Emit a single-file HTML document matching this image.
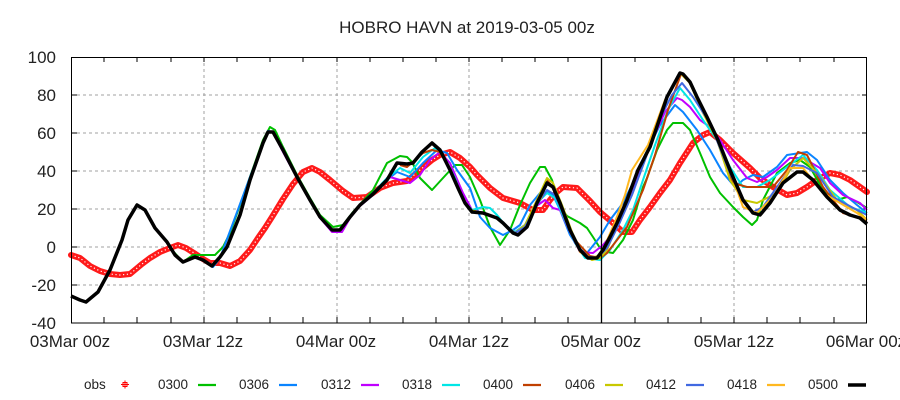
<!DOCTYPE html>
<html><head><meta charset="utf-8"><style>
html,body{margin:0;padding:0;background:#fff;}
svg{display:block;}
text{font-family:"Liberation Sans","DejaVu Sans",sans-serif;fill:#222;}
</style></head><body>
<svg width="900" height="400" viewBox="0 0 900 400" xmlns="http://www.w3.org/2000/svg">
<rect width="900" height="400" fill="#fff"/>
<text x="467" y="33" font-size="17" text-anchor="middle">HOBRO HAVN at 2019-03-05 00z</text>

<!-- grid -->
<g stroke="#a0a0a0" stroke-width="1" stroke-dasharray="3,3" fill="none">
<line x1="71" y1="95" x2="867" y2="95"/>
<line x1="71" y1="133" x2="867" y2="133"/>
<line x1="71" y1="171" x2="867" y2="171"/>
<line x1="71" y1="209" x2="867" y2="209"/>
<line x1="71" y1="247" x2="867" y2="247"/>
<line x1="71" y1="285" x2="867" y2="285"/>
<line x1="204" y1="57" x2="204" y2="323"/>
<line x1="337" y1="57" x2="337" y2="323"/>
<line x1="469" y1="57" x2="469" y2="323"/>
<line x1="734" y1="57" x2="734" y2="323"/>
</g>

<!-- ticks -->
<g stroke="#000" stroke-width="1">
<path d="M104,323v-6M137,323v-6M171,323v-6M204,323v-6M237,323v-6M270,323v-6M303,323v-6M337,323v-6M370,323v-6M403,323v-6M436,323v-6M469,323v-6M502,323v-6M535,323v-6M568,323v-6M635,323v-6M668,323v-6M701,323v-6M734,323v-6M767,323v-6M800,323v-6M834,323v-6"/>
<path d="M104,57v5M137,57v5M171,57v5M204,57v5M237,57v5M270,57v5M303,57v5M337,57v5M370,57v5M403,57v5M436,57v5M469,57v5M502,57v5M535,57v5M568,57v5M635,57v5M668,57v5M701,57v5M734,57v5M767,57v5M800,57v5M834,57v5"/>
<path d="M71,95h6M71,133h6M71,171h6M71,209h6M71,247h6M71,285h6"/>
<path d="M867,95h-5M867,133h-5M867,171h-5M867,209h-5M867,247h-5M867,285h-5"/>
</g>

<!-- y labels -->
<g font-size="17" text-anchor="end">
<text x="56" y="63">100</text>
<text x="56" y="101">80</text>
<text x="56" y="139">60</text>
<text x="56" y="177">40</text>
<text x="56" y="215">20</text>
<text x="56" y="253">0</text>
<text x="56" y="291">-20</text>
<text x="56" y="329">-40</text>
</g>
<!-- x labels -->
<g font-size="17" text-anchor="middle">
<text x="70" y="347">03Mar 00z</text>
<text x="203" y="347">03Mar 12z</text>
<text x="336" y="347">04Mar 00z</text>
<text x="469" y="347">04Mar 12z</text>
<text x="601" y="347">05Mar 00z</text>
<text x="734" y="347">05Mar 12z</text>
<text x="866" y="347">06Mar 00z</text>
</g>

<!-- obs -->
<polyline fill="none" stroke="#ff1a1a" stroke-width="6" stroke-linejoin="round" stroke-linecap="round"
points="71,255 80,258 90,266 100,271 110,274 120,275 130,274 136,269 142,264 150,258 160,252 170,248 178,245 186,248 194,253 203,259 210,263 220,263 230,266 240,261 250,250 258,238 265,228 272,217 283,199 293,184 303,172 312,168 320,172 330,180 343,191 353,198 367,197 380,188 393,183 407,181 420,170 432,160 440,155 450,152 460,158 470,167 477,175 490,188 503,198 520,203 533,210 543,210 550,200 557,192 563,187 577,188 590,201 600,212 613,223 623,232 632,232 640,220 650,207 660,193 670,180 680,163 693,143 703,135 710,132 720,140 733,153 750,168 760,178 773,187 787,195 797,193 807,187 817,180 830,173 840,175 850,180 860,187 867,192"/>
<polyline fill="none" stroke="#fff" stroke-width="1.2" stroke-dasharray="1.2,2.6" stroke-linejoin="round"
points="71,255 80,258 90,266 100,271 110,274 120,275 130,274 136,269 142,264 150,258 160,252 170,248 178,245 186,248 194,253 203,259 210,263 220,263 230,266 240,261 250,250 258,238 265,228 272,217 283,199 293,184 303,172 312,168 320,172 330,180 343,191 353,198 367,197 380,188 393,183 407,181 420,170 432,160 440,155 450,152 460,158 470,167 477,175 490,188 503,198 520,203 533,210 543,210 550,200 557,192 563,187 577,188 590,201 600,212 613,223 623,232 632,232 640,220 650,207 660,193 670,180 680,163 693,143 703,135 710,132 720,140 733,153 750,168 760,178 773,187 787,195 797,193 807,187 817,180 830,173 840,175 850,180 860,187 867,192"/>

<g fill="none" stroke-width="2" stroke-linejoin="round">
<!-- 0300 -->
<polyline stroke="#00c000" points="150,220 158,232 167,241 172,250 183,262 193,255 207,255 215,255 223,247 230,233 250,177 263,140 270,127 275,130 283,147 297,175 310,198 320,215 333,227 343,225 353,212 373,190 387,163 400,156 407,157 412,162 420,178 432,190 443,178 455,165 462,165 470,177 480,200 490,227 500,245 510,230 520,205 530,183 540,167 545,167 552,180 560,207 567,216 580,223 587,228 593,237 600,248 607,252 613,253 623,240 633,220 643,187 647,178 657,150 667,130 673,123 683,123 690,130 700,153 710,177 720,193 733,207 743,217 752,225 757,220 763,200 777,173 790,163 800,160 810,167 823,190 837,200 847,197 857,202 867,208"/>
<!-- 0306 -->
<polyline stroke="#0a84ff" points="203,260 213,267 220,258 233,223 250,177 263,143 268,131 273,132 283,150 297,177 310,200 320,217 332,230 340,230 350,217 360,205 373,193 387,180 397,172 410,177 423,163 437,150 447,153 457,170 470,188 480,217 490,228 503,235 513,230 520,225 530,205 540,193 547,192 553,195 560,210 570,235 580,250 587,253 600,237 610,220 623,203 633,183 645,155 660,125 675,105 683,112 697,130 710,150 723,173 735,187 743,180 753,175 763,177 777,167 787,155 807,152 817,160 830,180 843,193 857,205 867,213"/>
<!-- 0312 -->
<polyline stroke="#c000ff" points="263,143 268,132 273,132 283,152 297,178 310,201 320,218 332,232 342,232 350,218 360,206 373,195 390,177 400,180 410,183 420,175 430,160 440,152 450,163 463,193 472,210 483,213 497,218 505,225 515,232 525,225 535,207 545,200 553,208 560,210 570,232 580,252 593,253 603,245 613,233 625,210 637,180 650,145 665,112 677,98 682,100 690,107 700,120 710,127 720,140 733,160 747,178 757,182 767,177 777,170 790,158 803,158 820,168 830,183 843,195 860,203 867,210"/>
<!-- 0318 -->
<polyline stroke="#00e6e6" points="340,230 350,217 360,205 373,193 387,178 400,168 410,173 423,157 435,148 443,155 455,178 463,200 472,210 483,207 490,208 497,215 505,225 515,232 525,225 535,205 547,193 555,198 565,220 575,243 585,258 600,260 610,250 623,230 633,210 643,180 655,145 668,110 680,88 690,100 703,120 717,140 730,167 743,187 757,187 770,180 787,167 803,155 817,170 830,190 850,207 867,213"/>
<!-- 0400 -->
<polyline stroke="#c04000" points="400,165 407,167 423,153 432,150 440,152 450,168 460,193 470,210 483,213 497,218 505,225 515,233 525,226 537,200 547,180 555,190 565,215 575,240 590,256 600,258 607,253 627,227 643,190 655,155 668,110 681,74 690,82 700,105 715,135 733,183 747,187 760,187 773,187 787,170 798,152 807,155 823,187 843,213 857,217 867,222"/>
<!-- 0406 -->
<polyline stroke="#c8c800" points="470,210 483,213 497,218 505,225 515,233 525,225 537,200 547,178 553,183 562,205 572,232 582,253 592,260 600,258 607,250 617,225 627,203 638,170 650,145 667,97 680,73 690,83 700,107 717,140 730,180 743,200 757,203 777,193 790,170 803,158 817,173 837,200 857,210 867,220"/>
<!-- 0412 -->
<polyline stroke="#4169e1" points="472,212 483,213 497,218 505,225 515,233 525,227 537,205 547,190 555,195 565,218 575,243 588,257 598,257 607,248 620,222 632,195 645,160 660,118 672,95 682,83 693,97 710,123 730,173 743,200 753,212 763,207 777,187 793,165 803,166 817,173 833,197 857,210 867,215"/>
<!-- 0418 -->
<polyline stroke="#ffb820" points="540,200 547,183 553,187 560,203 570,230 580,252 590,258 598,256 605,245 615,222 625,195 632,170 648,145 665,100 680,73 688,80 697,97 707,117 718,140 730,170 743,207 757,213 773,197 790,168 803,168 823,193 857,213 867,220"/>
</g>
<!-- 0500 -->
<polyline fill="none" stroke="#000" stroke-width="3.5" stroke-linejoin="round"
points="71,296 80,300 86,302 98,292 110,270 122,240 128,220 137,205 145,210 155,228 167,242 175,255 183,262 195,257 203,260 212,266 220,257 227,247 240,215 250,180 263,143 268,132 273,132 283,150 297,177 310,200 320,217 332,230 340,230 350,217 360,205 373,194 387,180 397,163 407,164 413,163 422,152 432,143 440,150 450,170 458,188 465,203 472,212 483,213 497,218 503,223 513,233 518,235 527,227 537,203 547,183 553,187 560,203 570,230 580,250 588,258 597,258 603,250 610,237 617,223 627,200 638,170 650,147 667,97 680,73 683,74 690,82 697,97 707,117 718,140 730,170 743,200 753,213 760,215 770,203 783,183 797,172 803,172 813,180 827,197 840,210 850,215 860,218 867,224"/>

<!-- analysis time line -->
<line x1="601.5" y1="57" x2="601.5" y2="323" stroke="#000" stroke-width="1.3"/>
<!-- frame -->
<rect x="71.5" y="57.5" width="795" height="265.5" fill="none" stroke="#000" stroke-width="1"/>

<!-- legend -->
<g font-size="13.5">
<text x="84" y="389">obs</text>
<text x="158" y="389">0300</text>
<text x="239" y="389">0306</text>
<text x="321" y="389">0312</text>
<text x="402" y="389">0318</text>
<text x="483" y="389">0400</text>
<text x="565" y="389">0406</text>
<text x="646" y="389">0412</text>
<text x="727" y="389">0418</text>
<text x="808" y="389">0500</text>
</g>
<g fill="none" stroke="#ff0000" stroke-width="1">
<rect x="123" y="382.5" width="4" height="4"/>
<path d="M125,380.5v8M121,384.5h8"/>
</g>
<g stroke-width="2.2">
<line x1="198" y1="385" x2="216" y2="385" stroke="#00c000"/>
<line x1="279" y1="385" x2="297" y2="385" stroke="#0a84ff"/>
<line x1="361" y1="385" x2="379" y2="385" stroke="#c000ff"/>
<line x1="442" y1="385" x2="460" y2="385" stroke="#00e6e6"/>
<line x1="523" y1="385" x2="541" y2="385" stroke="#c04000"/>
<line x1="605" y1="385" x2="623" y2="385" stroke="#c8c800"/>
<line x1="686" y1="385" x2="704" y2="385" stroke="#4169e1"/>
<line x1="767" y1="385" x2="785" y2="385" stroke="#ffb820"/>
</g>
<line x1="848" y1="385" x2="866" y2="385" stroke="#000" stroke-width="3.5"/>
</svg>
</body></html>
